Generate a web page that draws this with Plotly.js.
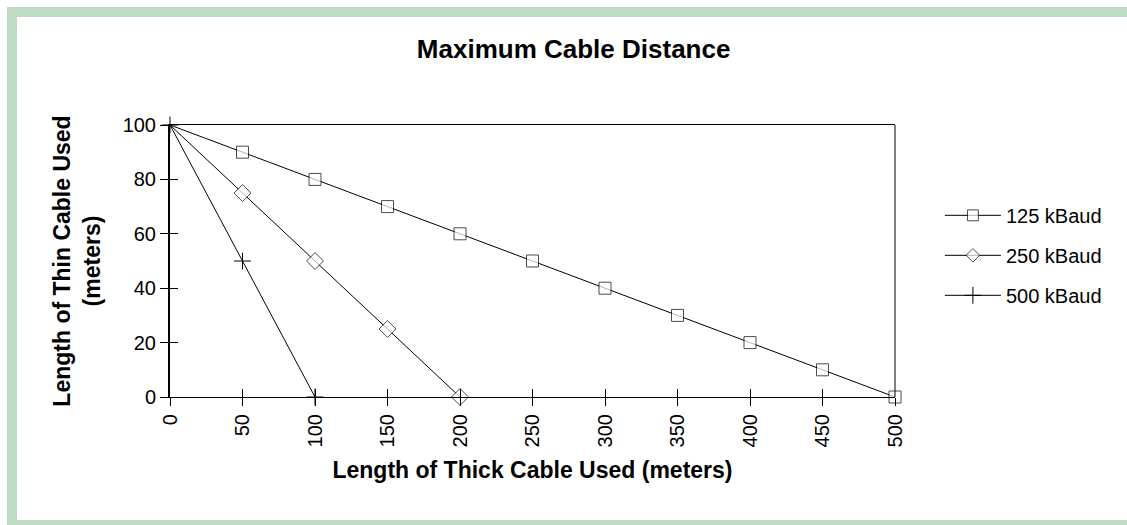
<!DOCTYPE html>
<html>
<head>
<meta charset="utf-8">
<script src="https://cdn.plot.ly/plotly-3.0.1.min.js"></script>
<style>
  html, body { margin:0; padding:0; overflow:hidden; background:#fff; }
  #chart { position:absolute; left:0; top:0; width:1127px; height:525px; }
  #frame { position:absolute; left:7px; top:7px; width:1200px; height:523px; box-sizing:border-box;
           border-top:10px solid #BFDCC2; border-left:10px solid #BFDCC2; border-bottom:10px solid #BFDCC2;
           pointer-events:none; }
</style>
</head>
<body>
<div id="chart"></div>
<div id="frame"></div>
<script>
// ---- data ----
const xTicks = [0, 50, 100, 150, 200, 250, 300, 350, 400, 450, 500];
const xTickLabels = ["0", "50", "100", "150", "200", "250", "300", "350", "400", "450", "500"];
const yTicks = [0, 20, 40, 60, 80, 100];

const x125 = [0, 50, 100, 150, 200, 250, 300, 350, 400, 450, 500];
const y125 = [100, 90, 80, 70, 60, 50, 40, 30, 20, 10, 0];

const x250 = [0, 50, 100, 150, 200];
const y250 = [100, 75, 50, 25, 0];

const x500 = [0, 50, 100];
const y500 = [100, 50, 0];

const names = ["125 kBaud", "250 kBaud", "500 kBaud"];

const font = "Liberation Sans, Arial, sans-serif";

function sizes(arr, first, rest) { return arr.map((v, i) => i === 0 ? first : rest); }

const traces = [
  { x: x125, y: y125, name: names[0], type: "scatter", mode: "lines+markers", legendgroup: "a",
    cliponaxis: false,
    line: { color: "#000", width: 1 },
    marker: { symbol: "square", size: sizes(x125, 0, 12), color: "#fff", line: { color: "#000", width: 1 } } },
  { x: x250, y: y250, name: names[1], type: "scatter", mode: "lines+markers", legendgroup: "b",
    cliponaxis: false,
    line: { color: "#000", width: 1 },
    marker: { symbol: "diamond", size: sizes(x250, 0, 13), color: "#fff", line: { color: "#000", width: 1 } } },
  { x: x500, y: y500, name: names[2], type: "scatter", mode: "lines+markers", legendgroup: "c",
    cliponaxis: false,
    line: { color: "#000", width: 1 },
    marker: { symbol: "cross-thin", size: 12, color: "#000", line: { color: "#000", width: 1 } } },
  // inner half of crossing tick marks
  { x: [0], y: [0], xaxis: "x2", yaxis: "y2", type: "scatter", mode: "markers", showlegend: false,
    hoverinfo: "skip", marker: { size: 0, opacity: 0 } }
];

const layout = {
  width: 1127, height: 525,
  margin: { l: 170, r: 232, t: 125, b: 128 },
  paper_bgcolor: "#fff", plot_bgcolor: "#fff",
  font: { family: font, color: "#000", size: 20 },
  title: { text: "<b>Maximum Cable Distance</b>", font: { family: font, size: 26, color: "#000" },
           x: 0.509, xanchor: "center", y: 0.907, yanchor: "middle", xref: "container", yref: "container" },
  xaxis: {
    range: [0, 500], tickmode: "array", tickvals: xTicks, ticktext: xTickLabels, tickangle: -90,
    ticks: "outside", ticklen: 8, tickcolor: "#000", tickwidth: 1,
    showline: true, linecolor: "#000", linewidth: 1, mirror: true, showgrid: false, zeroline: false,
    tickfont: { family: font, size: 20, color: "#000" },
    title: { text: "<b>Length of Thick Cable Used (meters)</b>", font: { family: font, size: 23, color: "#000" }, standoff: 15 }
  },
  yaxis: {
    range: [0, 100], tickmode: "array", tickvals: yTicks,
    ticks: "outside", ticklen: 8, tickcolor: "#000", tickwidth: 1,
    showline: true, linecolor: "#000", linewidth: 2, mirror: false, showgrid: false, zeroline: false,
    tickfont: { family: font, size: 20, color: "#000" },
    title: { text: "<b>Length of Thin Cable Used<br>(meters)</b>", font: { family: font, size: 23, color: "#000" }, standoff: 16 }
  },
  xaxis2: { overlaying: "x", range: [0, 500], tickmode: "array", tickvals: xTicks, ticks: "inside", ticklen: 8,
            tickcolor: "#000", showticklabels: false, showline: false, showgrid: false, zeroline: false },
  yaxis2: { overlaying: "y", range: [0, 100], tickmode: "array", tickvals: yTicks, ticks: "inside", ticklen: 8,
            tickcolor: "#000", showticklabels: false, showline: false, showgrid: false, zeroline: false },
  shapes: [
    { type: "line", xref: "paper", yref: "paper", x0: 1, x1: 1, y0: 0, y1: 1, line: { color: "#000", width: 1 } }
  ],
  legend: {
    xref: "container", yref: "container", x: 0.834, y: 0.627, xanchor: "left", yanchor: "top",
    font: { family: font, size: 20, color: "#000" }, itemwidth: 56, tracegroupgap: 11,
    bgcolor: "rgba(0,0,0,0)", borderwidth: 0
  },
  showlegend: true
};

Plotly.newPlot("chart", traces, layout, { displayModeBar: false, staticPlot: true });
</script>
</body>
</html>
